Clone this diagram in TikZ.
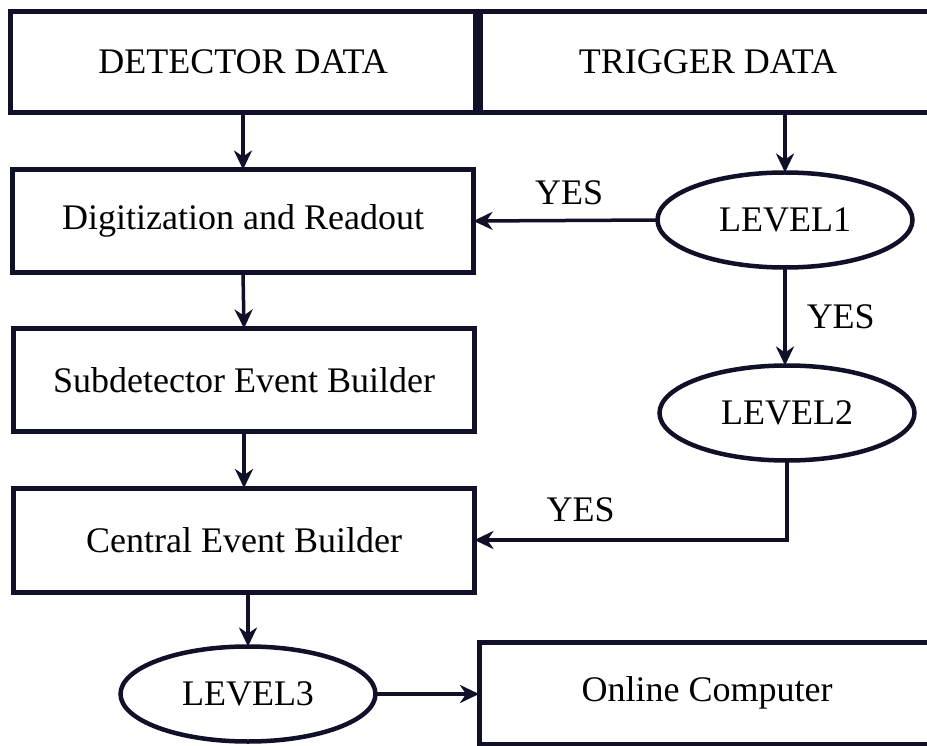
\documentclass[tikz,border=0pt]{standalone}
\usepackage{fontspec}
\setmainfont{Liberation Serif}
\usetikzlibrary{shapes.geometric,arrows.meta}
\definecolor{ink}{RGB}{16,16,40}
\begin{document}
\begin{tikzpicture}[x=1pt,y=-1pt,
  font=\fontsize{36}{42}\selectfont,
  box/.style={draw=ink,line width=5pt,rectangle,inner sep=0pt,outer sep=0pt,
    minimum width=#1,minimum height=101pt},
  oval/.style={draw=ink,line width=4.5pt,ellipse,inner sep=0pt,outer sep=0pt,
    minimum width=255pt,minimum height=95pt},
  flow/.style={draw=ink,line width=3.5pt,
    -{Stealth[length=19pt,width=18pt,inset=6pt]}},
  tag/.style={inner sep=0pt}]
\clip (0,0) rectangle (927,746);
\fill[white] (0,0) rectangle (927,746);

% data sources
\node[box=465pt] (det) at (243,62) {DETECTOR DATA};
\node[box=456pt] (trig) at (708,62) {TRIGGER DATA};

% detector chain
\node[box=461pt,minimum height=103pt] (dig) at (243,221) {Digitization and Readout};
\node[box=461pt,minimum height=103pt] (seb) at (244,380) {Subdetector Event Builder};
\node[box=461pt,minimum height=104pt] (ceb) at (244,540) {Central Event Builder};
\node[oval] (l3) at (248,694) {LEVEL3};
\node[box=456pt,minimum height=102pt] (oc) at (707,693) {Online Computer};

% trigger chain
\node[oval] (l1) at (785,220) {LEVEL1};
\node[oval] (l2) at (787,413) {LEVEL2};

% connectors
\draw[flow] (det.south) -- (dig.north);
\draw[flow] (dig.south) -- (seb.north);
\draw[flow] (seb.south) -- (ceb.north);
\draw[flow] (l3.north |- ceb.south) -- (l3.north);
\draw[flow] (l3.east) -- (l3.east -| oc.west);
\draw[flow] (l1.north |- trig.south) -- (l1.north);
\draw[flow] (l1.west) -- (dig.east)
  node[tag,pos=0.48,above=14pt] {YES};
\draw[flow] (l1.south) -- (l1.south |- l2.north)
  node[tag,pos=0.5,right=20pt] {YES};
\draw[flow] (l2.south) |- (ceb.east)
  node[tag,pos=0.83,above=16pt] {YES};
\end{tikzpicture}
\end{document}
